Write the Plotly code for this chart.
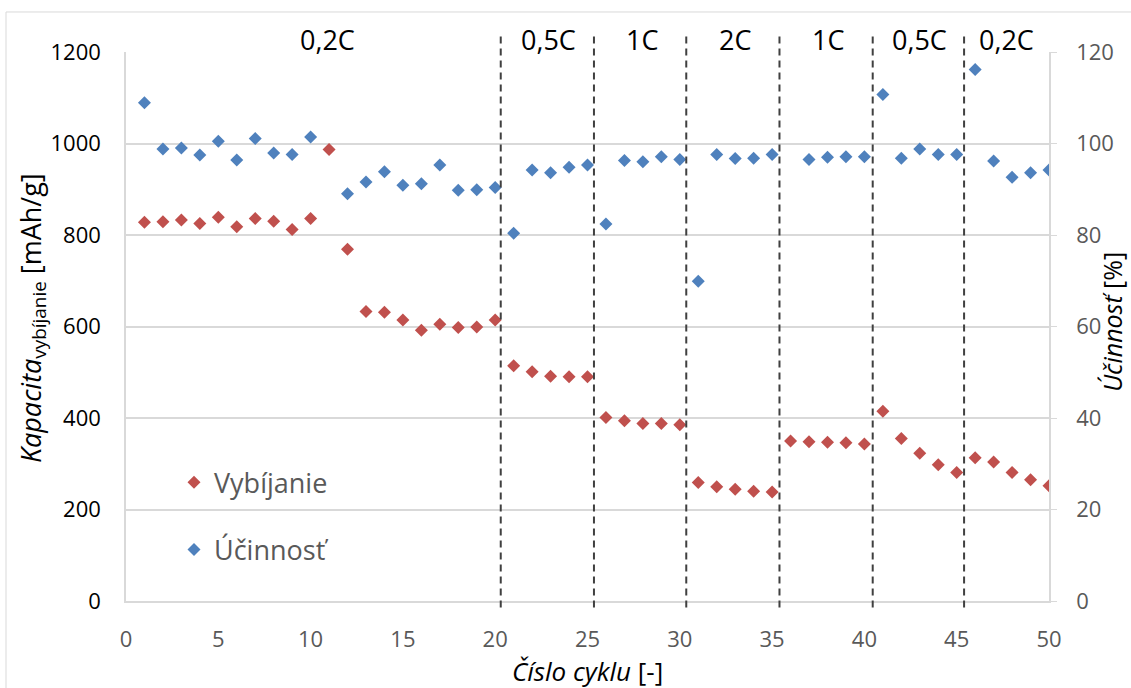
import plotly.graph_objects as go

cycles = list(range(1, 51))

# Discharge capacity [mAh/g] (left axis)
vybijanie = [828, 829, 833, 825, 839, 818, 836, 830, 812, 836,
             987, 769, 633, 631, 614, 592, 605, 598, 599, 614,
             514, 501, 491, 490, 490, 401, 394, 388, 388, 385,
             259, 250, 244, 240, 238, 350, 348, 347, 346, 343,
             415, 355, 323, 298, 281, 313, 304, 281, 265, 252]

# Efficiency [%] (right axis)
ucinnost = [108.9, 98.8, 99.0, 97.5, 100.5, 96.4, 101.1, 97.9, 97.6, 101.4,
            None, 89.0, 91.6, 93.8, 90.9, 91.2, 95.3, 89.8, 89.9, 90.4,
            80.4, 94.2, 93.6, 94.8, 95.3, 82.4, 96.3, 96.0, 97.1, 96.5,
            69.9, 97.6, 96.7, 96.8, 97.6, None, 96.5, 97.0, 97.1, 97.1,
            110.7, 96.8, 98.8, 97.6, 97.6, 116.2, 96.2, 92.6, 93.6, 94.2]

rate_labels = ["0,2C", "0,5C", "1C", "2C", "1C", "0,5C", "0,2C"]
rate_label_x = [10.9, 22.9, 27.95, 33.0, 38.05, 43.0, 47.7]
boundaries = [20.3, 25.35, 30.35, 35.4, 40.45, 45.4]

x_title = "<i>Číslo cyklu</i> [-]"
y_title = "<i>Kapacita</i><sub>vybíjanie</sub> [mAh/g]"
y2_title = "<i>Účinnosť</i> [%]"

RED = "#C0504D"
BLUE = "#4F81BD"
GRAY_TXT = "#595959"
GRID = "#D9D9D9"
FONT = "Open Sans"

fig = go.Figure()
fig.add_trace(go.Scatter(x=cycles, y=vybijanie, mode="markers", name="Vybíjanie",
                         marker=dict(symbol="diamond", size=10, color=RED),
                         legend="legend", yaxis="y", showlegend=True))
fig.add_trace(go.Scatter(x=cycles, y=ucinnost, mode="markers", name="Účinnosť",
                         marker=dict(symbol="diamond", size=10, color=BLUE),
                         legend="legend2", yaxis="y2", showlegend=True))

shapes = []
for b in boundaries:
    shapes.append(dict(type="line", xref="x", yref="paper", x0=b, x1=b,
                       y0=-0.012, y1=1.03,
                       line=dict(color="#404040", width=2, dash="7px,5px")))
shapes.append(dict(type="rect", xref="paper", yref="paper",
                   x0=-0.130, x1=1.1, y0=-0.2, y1=1.0729,
                   line=dict(color=GRID, width=1), fillcolor="rgba(0,0,0,0)"))

annotations = []
for lab, lx in zip(rate_labels, rate_label_x):
    annotations.append(dict(text=lab, x=lx, xref="x", y=1.022, yref="paper",
                            yanchor="middle", showarrow=False,
                            font=dict(family=FONT, size=27, color="black")))
annotations.append(dict(text=x_title, x=0.4995, y=-0.127, xref="paper", yref="paper",
                        xanchor="center", yanchor="middle", showarrow=False,
                        font=dict(family=FONT, size=26, color="black")))
annotations.append(dict(text=y_title, x=-0.102, y=0.515, xref="paper", yref="paper",
                        xanchor="center", yanchor="middle", showarrow=False, textangle=-90,
                        font=dict(family=FONT, size=27, color="black")))
annotations.append(dict(text=y2_title, x=1.068, y=0.508, xref="paper", yref="paper",
                        xanchor="center", yanchor="middle", showarrow=False, textangle=-90,
                        font=dict(family=FONT, size=25, color="black")))

fig.update_layout(
    width=1131, height=688,
    margin=dict(l=126, r=82, t=52, b=87, autoexpand=False),
    paper_bgcolor="white", plot_bgcolor="white",
    showlegend=True,
    font=dict(family=FONT, size=22, color=GRAY_TXT),
    shapes=shapes, annotations=annotations,
    xaxis=dict(range=[0, 50], dtick=5, showgrid=False, zeroline=False,
               showline=True, linecolor=GRID, linewidth=1.5, automargin=False,
               ticks="", ticklabelstandoff=18,
               tickfont=dict(family=FONT, size=22, color=GRAY_TXT)),
    yaxis=dict(range=[0, 1200], dtick=200, showgrid=True, gridcolor=GRID, gridwidth=1.5,
               zeroline=False, showline=True, linecolor=GRID, linewidth=1.5, automargin=False,
               ticks="", ticklabelstandoff=19,
               tickfont=dict(family=FONT, size=22, color="black")),
    yaxis2=dict(range=[0, 120], dtick=20, overlaying="y", side="right",
                showgrid=False, zeroline=False, showline=True, linecolor=GRID, linewidth=1.5,
                automargin=False,
                ticks="outside", ticklen=6, tickcolor=GRID, ticklabelstandoff=15,
                tickfont=dict(family=FONT, size=22, color=GRAY_TXT)),
    legend=dict(x=0.052, y=0.2155, xanchor="left", yanchor="middle",
                bgcolor="rgba(0,0,0,0)", font=dict(family=FONT, size=27, color=GRAY_TXT)),
    legend2=dict(x=0.052, y=0.093, xanchor="left", yanchor="middle",
                 bgcolor="rgba(0,0,0,0)", font=dict(family=FONT, size=27, color=GRAY_TXT)),
)

fig.write_html("out.html", config={"displayModeBar": False},
               post_script="document.body.style.margin='0';document.body.style.overflow='hidden';")
